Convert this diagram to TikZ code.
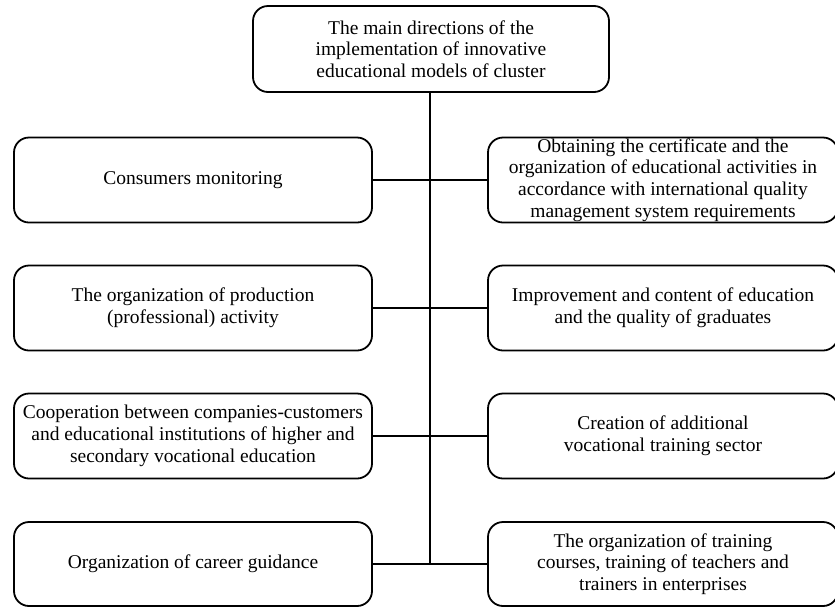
\documentclass[tikz,border=0pt]{standalone}
\usepackage{fontspec}
\setmainfont{Liberation Serif}
\begin{document}
\begin{tikzpicture}[x=1pt,y=-1pt,
  box/.style={draw, rectangle, rounded corners=15pt, line width=1.8pt,
    align=center, inner sep=0pt,
    font=\fontsize{19.5pt}{21.7pt}\selectfont},
  lbox/.style={box, minimum width=358pt, minimum height=85pt},
  rbox/.style={box, minimum width=350pt, minimum height=85pt},
  conn/.style={line width=1.8pt}]
\useasboundingbox (0,0) rectangle (835,606);
\clip (0,0) rectangle (835,606);
\node[box, minimum width=356pt, minimum height=86pt] (top) at (431,49)
  {The main directions of the\\implementation of innovative\\educational models of cluster};
\node[lbox] (l1) at (193,180) {Consumers monitoring};
\node[lbox] (l2) at (193,308) {The organization of production\\(professional) activity};
\node[lbox] (l3) at (193,436) {Cooperation between companies-customers\\and educational institutions of higher and\\secondary vocational education};
\node[lbox, minimum height=84pt] (l4) at (193,564) {Organization of career guidance};
\node[rbox] (r1) at (663,180) {Obtaining the certificate and the\\organization of educational activities in\\accordance with international quality\\management system requirements};
\node[rbox] (r2) at (663,308) {Improvement and content of education\\and the quality of graduates};
\node[rbox] (r3) at (663,436) {Creation of additional\\vocational training sector};
\node[rbox, minimum height=84pt] (r4) at (663,564) {The organization of training\\courses, training of teachers and\\trainers in enterprises};
\coordinate (tk) at (430,0);
\coordinate (end) at (tk |- l4.east);
\draw[conn] (tk |- top.south) -- (end);
\draw[conn] (l1.east) -- (r1.west);
\draw[conn] (l2.east) -- (r2.west);
\draw[conn] (l3.east) -- (r3.west);
\draw[conn] (l4.east) -- (r4.west);
\end{tikzpicture}
\end{document}
